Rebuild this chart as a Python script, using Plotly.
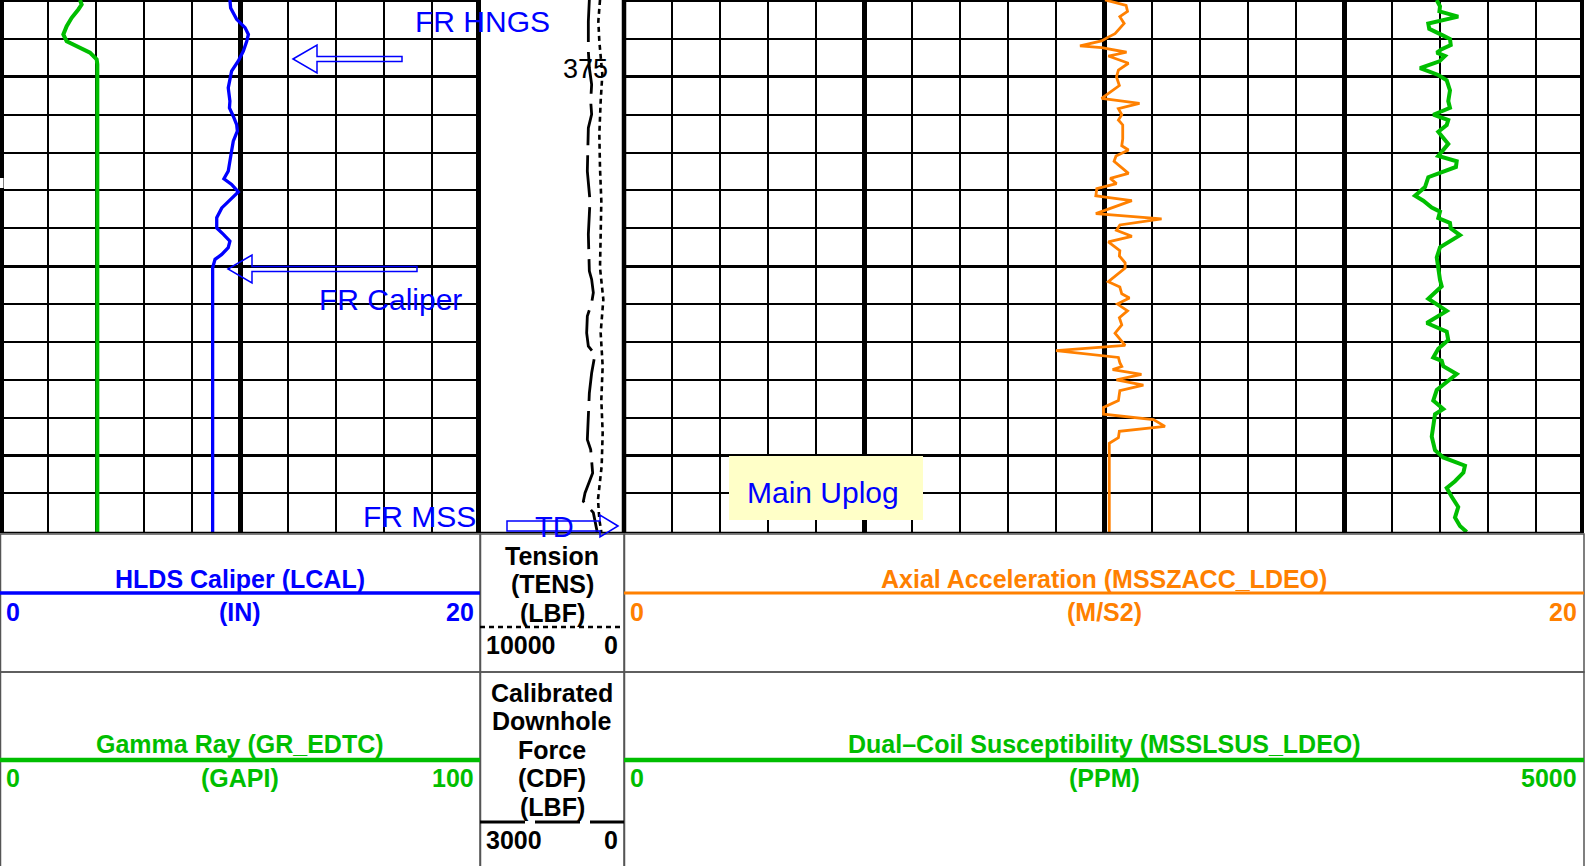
import plotly.graph_objects as go

# ---------------- data ----------------
# HLDS Caliper (LCAL), inches
cal_depth = [372.97, 373.18, 373.48, 373.70, 373.88, 374.06, 374.32, 374.58, 374.85, 375.11,
             375.29, 375.64, 375.82, 376.04, 376.26, 376.43, 376.70, 376.96, 377.23, 377.49,
             377.69, 377.84, 378.04, 378.24, 378.46, 378.72, 378.99, 379.16, 379.34, 379.51,
             379.69, 379.82, 380.04, 387.02]
cal_in = [9.58, 9.61, 9.86, 10.21, 10.35, 10.28, 10.14, 9.93, 9.65, 9.56,
          9.51, 9.58, 9.56, 9.72, 9.86, 9.89, 9.72, 9.65, 9.58, 9.51,
          9.33, 9.65, 9.93, 9.58, 9.24, 9.03, 9.03, 9.31, 9.58, 9.51,
          9.24, 8.96, 8.86, 8.86]

# Gamma Ray (GR_EDTC), GAPI
gr_depth = [372.97, 373.09, 373.22, 373.44, 373.66, 373.88, 374.06, 374.23, 374.36, 374.54, 374.67, 387.02]
gr_gapi = [16.67, 17.01, 16.32, 14.93, 13.89, 13.19, 13.89, 16.67, 18.75, 20.14, 20.28, 20.28]

# Tension (TENS), LBF
tens_depth = [372.97, 373.53, 374.06, 374.58, 374.94, 375.64, 376.52, 377.40, 378.28, 379.16,
              380.04, 380.88, 381.76, 382.64, 383.52, 384.40, 385.28, 386.16, 386.69, 387.02]
tens_lbf = [1667, 1782, 1713, 1574, 1505, 1620, 1713, 1667, 1574, 1620,
            1667, 1435, 1620, 1481, 1574, 1481, 1551, 1806, 1713, 1574]

# Calibrated Downhole Force (CDF), LBF
cdf_depth = [372.97, 373.53, 374.32, 374.76, 375.20, 375.64, 375.99, 376.35, 377.49, 377.80,
             378.28, 378.63, 379.16, 380.13, 380.35, 380.70, 380.97, 381.32, 381.76, 382.11,
             382.33, 382.82, 383.08, 383.35, 384.58, 384.84, 385.46, 385.99, 386.21, 386.51,
             386.95, 387.02]
cdf_lbf = [722, 743, 743, 722, 674, 694, 674, 743, 764, 743,
           708, 722, 743, 722, 674, 639, 674, 764, 778, 743,
           604, 674, 694, 722, 764, 694, 653, 812, 847, 639,
           569, 560]

# Axial Acceleration (MSSZACC_LDEO), M/S2
acc_depth = [372.97, 373.11, 373.27, 373.41, 373.59, 373.86, 373.95, 374.05, 374.18, 374.23,
             374.35, 374.45, 374.64, 374.82, 375.00, 375.23, 375.57, 375.70, 375.84, 376.00,
             376.14, 376.27, 376.64, 376.82, 376.93, 377.09, 377.23, 377.55, 377.68, 377.82,
             377.95, 378.14, 378.16, 378.27, 378.61, 378.75, 378.91, 379.05, 379.21, 379.36,
             379.59, 379.73, 379.91, 380.05, 380.41, 380.55, 380.73, 380.84, 381.00, 381.18,
             381.36, 381.55, 381.77, 382.09, 382.23, 382.41, 382.55, 382.65, 382.73, 382.86,
             383.00, 383.14, 383.29, 383.55, 383.73, 383.91, 384.05, 384.23, 384.36, 384.53,
             384.68, 387.02]
acc_ms2 = [10.02, 10.46, 10.49, 10.33, 10.42, 10.23, 10.09, 9.95, 9.50, 9.95,
           10.47, 10.09, 10.51, 10.30, 10.26, 10.32, 9.95, 10.74, 10.30, 10.37,
           10.30, 10.39, 10.39, 10.37, 10.51, 10.25, 10.21, 10.51, 10.13, 10.26,
           9.85, 9.83, 9.95, 10.58, 9.83, 11.20, 10.33, 10.26, 10.58, 10.09,
           10.33, 10.32, 10.44, 10.44, 10.09, 10.33, 10.37, 10.53, 10.28, 10.49,
           10.32, 10.37, 10.23, 10.44, 9.00, 10.30, 10.33, 10.37, 10.18, 10.78,
           10.26, 10.82, 10.33, 10.30, 9.99, 9.99, 11.03, 11.27, 10.32, 10.30,
           10.11, 10.11]

# Dual-Coil Susceptibility (MSSLSUS_LDEO), PPM
sus_depth = [372.97, 373.14, 373.27, 373.41, 373.59, 373.73, 373.91, 374.00, 374.16, 374.27,
             374.36, 374.45, 374.59, 374.77, 374.95, 375.09, 375.36, 375.64, 375.82, 376.00,
             376.14, 376.27, 376.45, 376.77, 377.09, 377.23, 377.38, 377.65, 377.91, 378.14,
             378.27, 378.45, 378.56, 378.73, 378.86, 379.00, 379.18, 379.41, 379.50, 379.77,
             380.09, 380.36, 380.53, 380.86, 381.18, 381.50, 381.73, 381.95, 382.18, 382.41,
             382.50, 382.64, 382.85, 383.05, 383.27, 383.55, 383.77, 383.91, 384.18, 384.50,
             384.86, 385.05, 385.27, 385.45, 385.68, 385.86, 386.09, 386.36, 386.64, 386.86,
             387.02]
sus_ppm = [4233, 4250, 4247, 4345, 4189, 4194, 4267, 4302, 4306, 4259,
           4233, 4276, 4247, 4146, 4241, 4285, 4302, 4293, 4302, 4215,
           4293, 4285, 4241, 4293, 4241, 4337, 4333, 4189, 4172, 4120,
           4163, 4207, 4250, 4241, 4302, 4306, 4354, 4276, 4250, 4233,
           4241, 4250, 4259, 4189, 4285, 4181, 4285, 4293, 4241, 4215,
           4259, 4267, 4337, 4285, 4233, 4215, 4267, 4224, 4215, 4207,
           4224, 4267, 4380, 4372, 4328, 4285, 4311, 4345, 4328, 4354,
           4389]

depth_labels = [375]
DEPTH_TOP, DEPTH_BOTTOM = 372.97, 387.02

# ---------------- layout geometry / style ----------------
W, H = 1596, 866
PLOT_BOTTOM = 532
X_T1, X_T2, X_T3, X_END = 0, 480, 624, 1584
HDR_TOP, HDR_MID, HDR_BOT = 534, 672, 880

BLUE = "#0000FF"
GREEN = "#00BE00"
ORANGE = "#FF8000"
FONT = "Liberation Sans, Arial, sans-serif"
TENS_DASH = "5px,4px"
CDF_DASH = "42px,10px"


def px_x(x):
    return x / W


def px_y(y):
    return 1 - y / H


y_dom = [px_y(PLOT_BOTTOM), 1.0]
d1 = [px_x(X_T1), px_x(X_T2)]
d2 = [px_x(X_T2), px_x(X_T3)]
d3 = [px_x(X_T3), px_x(X_END)]

hidden = dict(showticklabels=False, ticks="", zeroline=False, showline=False, fixedrange=True)

fig = go.Figure()
fig.add_trace(go.Scatter(x=cal_in, y=cal_depth, xaxis="x", yaxis="y", mode="lines",
                         line=dict(color=BLUE, width=3.3), name="LCAL"))
fig.add_trace(go.Scatter(x=gr_gapi, y=gr_depth, xaxis="x2", yaxis="y", mode="lines",
                         line=dict(color=GREEN, width=4), name="GR_EDTC"))
fig.add_trace(go.Scatter(x=tens_lbf, y=tens_depth, xaxis="x3", yaxis="y2", mode="lines",
                         line=dict(color="black", width=2.6, dash=TENS_DASH), name="TENS"))
fig.add_trace(go.Scatter(x=cdf_lbf, y=cdf_depth, xaxis="x4", yaxis="y2", mode="lines",
                         line=dict(color="black", width=2.8, dash=CDF_DASH), name="CDF"))
fig.add_trace(go.Scatter(x=acc_ms2, y=acc_depth, xaxis="x5", yaxis="y3", mode="lines",
                         line=dict(color=ORANGE, width=2.8), name="MSSZACC_LDEO"))
fig.add_trace(go.Scatter(x=sus_ppm, y=sus_depth, xaxis="x6", yaxis="y3", mode="lines",
                         line=dict(color=GREEN, width=4), name="MSSLSUS_LDEO"))

ygrid = dict(showgrid=True, tick0=0, dtick=5, gridcolor="black", gridwidth=3,
             minor=dict(tick0=0, dtick=1, showgrid=True, gridcolor="black", gridwidth=1.5))

fig.update_layout(
    width=W, height=H, margin=dict(l=0, r=0, t=0, b=0),
    paper_bgcolor="white", plot_bgcolor="white", showlegend=False,
    xaxis=dict(domain=d1, range=[0, 20], anchor="y", showgrid=True, tick0=0, dtick=10,
               gridcolor="black", gridwidth=4.5,
               minor=dict(tick0=0, dtick=2, showgrid=True, gridcolor="black", gridwidth=2), **hidden),
    xaxis2=dict(overlaying="x", range=[0, 100], anchor="y", showgrid=False, **hidden),
    xaxis3=dict(domain=d2, range=[10000, 0], anchor="y2", showgrid=False, **hidden),
    xaxis4=dict(overlaying="x3", range=[3000, 0], anchor="y2", showgrid=False, **hidden),
    xaxis5=dict(domain=d3, range=[0, 20], anchor="y3", showgrid=True, tick0=0, dtick=5,
                gridcolor="black", gridwidth=4.5,
                minor=dict(tick0=0, dtick=1, showgrid=True, gridcolor="black", gridwidth=2), **hidden),
    xaxis6=dict(overlaying="x5", range=[0, 5000], anchor="y3", showgrid=False, **hidden),
    yaxis=dict(domain=y_dom, range=[DEPTH_BOTTOM, DEPTH_TOP], anchor="x", **ygrid, **hidden),
    yaxis2=dict(domain=y_dom, range=[DEPTH_BOTTOM, DEPTH_TOP], anchor="x3", showgrid=False, **hidden),
    yaxis3=dict(domain=y_dom, range=[DEPTH_BOTTOM, DEPTH_TOP], anchor="x5", **ygrid, **hidden),
)

shapes = []
# track borders
for xb, wdt in [(2, 4), (478.5, 5), (624, 4.5), (1582, 4)]:
    shapes.append(dict(type="line", xref="paper", yref="paper", x0=px_x(xb), x1=px_x(xb),
                       y0=px_y(0), y1=px_y(PLOT_BOTTOM), line=dict(color="black", width=wdt), layer="above"))
# small gap in the left border
shapes.append(dict(type="rect", xref="paper", yref="paper", x0=0, x1=px_x(3.5), y0=px_y(188), y1=px_y(178),
                   line=dict(width=0), fillcolor="white", layer="above"))
# bottom line of log area
shapes.append(dict(type="line", xref="paper", yref="paper", x0=0, x1=px_x(X_END), y0=px_y(532.5), y1=px_y(532.5),
                   line=dict(color="black", width=1.5)))
# "Main Uplog" label box
shapes.append(dict(type="rect", xref="paper", yref="paper", x0=px_x(729), x1=px_x(923),
                   y0=px_y(520), y1=px_y(456), line=dict(width=0), fillcolor="#FFFFC8", layer="above"))

# header boxes
for (xa, xb) in [(X_T1, X_T2), (X_T2, X_T3), (X_T3, X_END)]:
    for (ya, yb) in [(HDR_TOP, HDR_MID), (HDR_MID, HDR_BOT)]:
        shapes.append(dict(type="rect", xref="paper", yref="paper", x0=px_x(xa + 0.5), x1=px_x(xb),
                           y0=px_y(yb), y1=px_y(ya), line=dict(color="#555555", width=1.5)))

# header curve-style lines
hdr_lines = [
    (X_T1, X_T2, 593, BLUE, 3.5, "solid"),
    (X_T1, X_T2, 760, GREEN, 4.5, "solid"),
    (X_T3, X_END, 593, ORANGE, 3, "solid"),
    (X_T3, X_END, 760, GREEN, 4.5, "solid"),
    (X_T2, X_T3, 627, "black", 2.4, TENS_DASH),
    (X_T2, X_T3, 822, "black", 3, "45px,10px"),
]
for xa, xb, yy, col, wdt, dsh in hdr_lines:
    shapes.append(dict(type="line", xref="paper", yref="paper", x0=px_x(xa), x1=px_x(xb),
                       y0=px_y(yy), y1=px_y(yy), line=dict(color=col, width=wdt, dash=dsh)))


def hollow_arrow(tip_x, tail_x, head_x, yc, head_half, shaft_half):
    pts = [(tip_x, yc), (head_x, yc - head_half), (head_x, yc - shaft_half), (tail_x, yc - shaft_half),
           (tail_x, yc + shaft_half), (head_x, yc + shaft_half), (head_x, yc + head_half)]
    path = "M " + " L ".join(f"{px_x(a):.5f},{px_y(b):.5f}" for a, b in pts) + " Z"
    return dict(type="path", xref="paper", yref="paper", path=path,
                line=dict(color=BLUE, width=1.5), fillcolor="rgba(0,0,0,0)", layer="above")


shapes.append(hollow_arrow(293, 402, 317, 59, 14, 2.4))    # FR HNGS
shapes.append(hollow_arrow(228, 417, 252, 269, 14, 2.6))   # FR Caliper
shapes.append(hollow_arrow(618, 507, 600, 526, 11, 5))     # TD

fig.update_layout(shapes=shapes)

anns = []


def ann(text, x, y, size, color, xanchor="center", bold=False, **kw):
    d = dict(text=f"<b>{text}</b>" if bold else text, x=px_x(x), y=px_y(y), xref="paper", yref="paper",
             xanchor=xanchor, yanchor="middle", showarrow=False,
             font=dict(family=FONT, size=size, color=color))
    d.update(kw)
    anns.append(d)


# in-log labels
ann("FR HNGS", 482, 22, 30, BLUE)
ann("FR Caliper", 390, 299, 30, BLUE)
ann("FR MSS", 478, 516, 30, BLUE, xanchor="right")
ann("TD", 554, 527, 29, BLUE)
for dl in depth_labels:
    anns.append(dict(text=str(dl), x=px_x(585), y=dl, xref="paper", yref="y2", xanchor="center",
                     yanchor="middle", yshift=8, showarrow=False,
                     font=dict(family=FONT, size=27, color="black")))
ann("Main Uplog", 823, 492, 30, BLUE)

# header text
HS = 25
c1, c2, c3 = (X_T1 + X_T2) / 2, (X_T2 + X_T3) / 2, (X_T3 + X_END) / 2
ann("HLDS Caliper (LCAL)", c1, 579, HS, BLUE, bold=True)
ann("0", 4, 612, HS, BLUE, "left", True)
ann("(IN)", c1, 612, HS, BLUE, bold=True)
ann("20", 476, 612, HS, BLUE, "right", True)
ann("Gamma Ray (GR_EDTC)", c1, 744, HS, GREEN, bold=True)
ann("0", 4, 778, HS, GREEN, "left", True)
ann("(GAPI)", c1, 778, HS, GREEN, bold=True)
ann("100", 476, 778, HS, GREEN, "right", True)

for t, yy in [("Tension", 556), ("(TENS)", 584), ("(LBF)", 613)]:
    ann(t, c2, yy, HS, "black", bold=True)
ann("10000", 484, 645, HS, "black", "left", True)
ann("0", 620, 645, HS, "black", "right", True)
for t, yy in [("Calibrated", 693), ("Downhole", 721), ("Force", 750), ("(CDF)", 778), ("(LBF)", 807)]:
    ann(t, c2, yy, HS, "black", bold=True)
ann("3000", 484, 840, HS, "black", "left", True)
ann("0", 620, 840, HS, "black", "right", True)

ann("Axial Acceleration (MSSZACC_LDEO)", c3, 579, HS, ORANGE, bold=True)
ann("0", 628, 612, HS, ORANGE, "left", True)
ann("(M/S2)", c3, 612, HS, ORANGE, bold=True)
ann("20", 1579, 612, HS, ORANGE, "right", True)
ann("Dual–Coil Susceptibility (MSSLSUS_LDEO)", c3, 744, HS, GREEN, bold=True)
ann("0", 628, 778, HS, GREEN, "left", True)
ann("(PPM)", c3, 778, HS, GREEN, bold=True)
ann("5000", 1579, 778, HS, GREEN, "right", True)

fig.update_layout(annotations=anns)
fig.write_html("out.html", config={"displayModeBar": False},
               post_script="document.body.style.margin='0px';")
